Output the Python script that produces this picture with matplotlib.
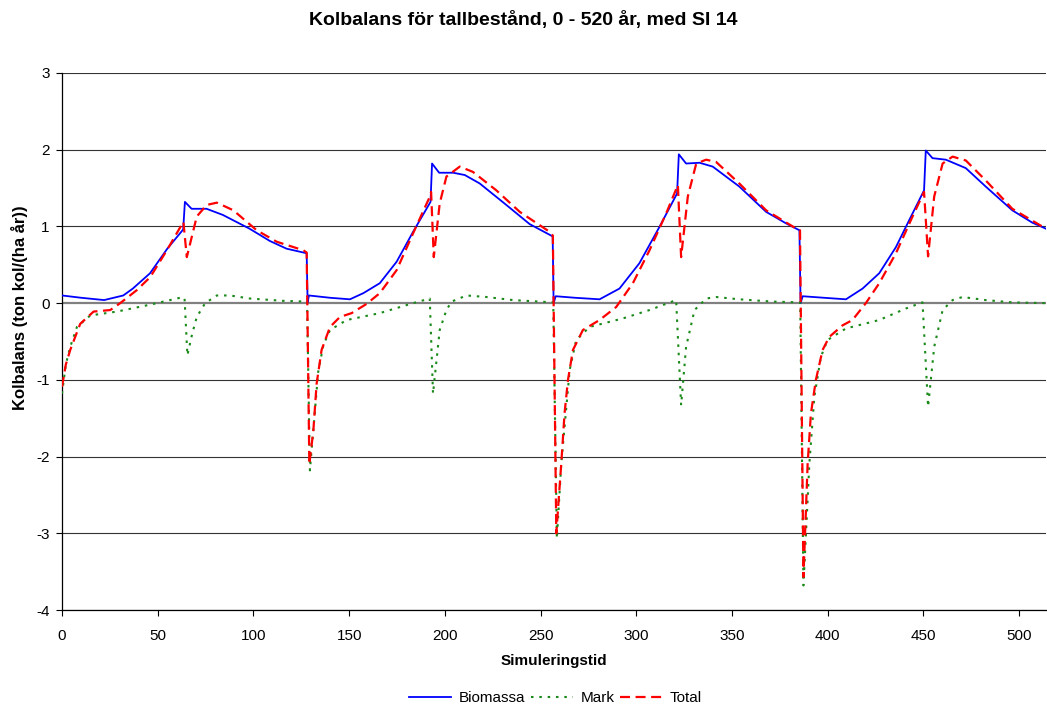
import matplotlib
matplotlib.use("Agg")
import matplotlib.pyplot as plt

plt.rcParams['font.family'] = ['Liberation Sans', 'DejaVu Sans']
plt.rcParams['axes.unicode_minus'] = False

# Biomassa
bio_t = [0, 10, 22, 32, 37, 46, 55, 63.3, 64.2, 67.7, 75.5, 84, 98, 108.6, 117.3, 127.8, 128.3, 129,
         140, 150.4, 157.4, 166, 174.8, 183.4, 192.5, 193.3, 197, 204.3, 210.4, 218.2, 232.1, 244.3, 256.3, 256.8, 257.9,
         268, 280.8, 291.2, 301.6, 312, 321.3, 322.2, 326, 333, 339.9, 353.8, 367.8, 378.2, 385.2, 385.8, 386.9,
         398, 409.5, 418.2, 426.9, 435.6, 442.5, 450.3, 451.2, 454.7, 461.7, 472.1, 482.5, 496.4, 506.8, 514]
bio_v = [0.10, 0.07, 0.04, 0.10, 0.19, 0.39, 0.71, 0.96, 1.32, 1.23, 1.23, 1.15, 0.97, 0.81, 0.71, 0.65, 0.01, 0.10,
         0.07, 0.05, 0.13, 0.26, 0.54, 0.93, 1.32, 1.82, 1.70, 1.70, 1.67, 1.56, 1.28, 1.03, 0.87, 0.00, 0.09,
         0.07, 0.05, 0.19, 0.52, 0.99, 1.43, 1.94, 1.82, 1.83, 1.78, 1.52, 1.19, 1.04, 0.95, 0.00, 0.09,
         0.07, 0.05, 0.19, 0.39, 0.73, 1.08, 1.47, 1.99, 1.89, 1.87, 1.76, 1.52, 1.21, 1.05, 0.97]

# Mark
mark_t = [0, 2, 4.3, 7.8, 14.8, 28.7, 46, 61.7, 64, 65.5, 68, 70.4, 74.8, 80.9, 87.8, 98.2, 115.6, 128,
          129.5, 131.8, 133.8, 136.5, 140, 148.7, 166, 183.4, 192.1, 193.8, 197.3, 200.8, 203.5, 211.3, 221.7, 235.6, 256.6,
          258.5, 260.8, 265.2, 268.6, 275.6, 292.9, 306.9, 320.8, 323.4, 326, 330.4, 336.5, 341.7, 353.8, 371.2, 385.6,
          387.3, 390.4, 393, 396.4, 399.9, 409.5, 426.9, 440.8, 449.5, 452.4, 455.6, 460, 465.2, 470.4, 482.5, 496.4, 514]
mark_v = [-1.18, -0.80, -0.57, -0.31, -0.16, -0.11, -0.02, 0.07, 0.07, -0.68, -0.40, -0.18, 0.00, 0.10, 0.10, 0.06, 0.03, 0.02,
          -2.18, -1.50, -0.90, -0.55, -0.35, -0.22, -0.13, 0.00, 0.06, -1.18, -0.35, -0.09, 0.02, 0.10, 0.08, 0.04, 0.01,
          -3.07, -2.09, -0.87, -0.48, -0.31, -0.20, -0.09, 0.04, -1.33, -0.57, -0.09, 0.06, 0.08, 0.05, 0.02, 0.01,
          -3.68, -2.09, -1.22, -0.70, -0.48, -0.33, -0.22, -0.07, 0.01, -1.35, -0.57, -0.09, 0.04, 0.08, 0.04, 0.01, 0.00]

# Total
tot_t = [0, 2, 4.3, 9.5, 16.5, 25.2, 30.4, 39.1, 46.1, 54.8, 63.4, 65.2, 70.4, 75.6, 80.9, 89.5, 101.7, 112.2, 126, 127.8,
         129.2, 131.3, 133, 135.6, 140, 145.2, 151.3, 159.1, 166, 174.8, 183.4, 191.8, 192.8, 194.2, 197.3, 200.8, 207.8, 214.7, 226.9, 239.1, 254.7, 256.4,
         258.2, 260.8, 262.5, 264.3, 266.9, 272.1, 280.8, 289.5, 298.2, 306.9, 315.6, 321.7, 323.4, 326.9, 331.3, 336.5, 341.7, 353.8, 367.8, 384.3, 385.5,
         387.3, 389.5, 391.2, 393.8, 397.3, 400.8, 407.7, 412.9, 419.9, 426.9, 435.6, 444.3, 450.3, 452.4, 455.6, 460, 465.2, 472.1, 482.5, 496.4, 514]
tot_v = [-1.09, -0.80, -0.61, -0.27, -0.11, -0.09, 0.00, 0.17, 0.34, 0.69, 1.06, 0.60, 1.13, 1.28, 1.31, 1.21, 0.95, 0.80, 0.69, 0.66,
         -2.10, -1.66, -1.05, -0.61, -0.31, -0.18, -0.13, -0.01, 0.13, 0.43, 0.91, 1.37, 1.45, 0.60, 1.30, 1.65, 1.78, 1.71, 1.47, 1.19, 0.93, 0.88,
         -3.00, -2.09, -1.44, -1.00, -0.61, -0.35, -0.22, -0.05, 0.26, 0.69, 1.17, 1.54, 0.60, 1.39, 1.82, 1.87, 1.84, 1.56, 1.21, 0.96, 0.95,
         -3.57, -2.09, -1.44, -1.00, -0.61, -0.44, -0.29, -0.22, 0.00, 0.26, 0.65, 1.13, 1.45, 0.61, 1.39, 1.82, 1.91, 1.86, 1.60, 1.23, 0.97]

x_ticks = [0, 50, 100, 150, 200, 250, 300, 350, 400, 450, 500]
y_ticks = [-4, -3, -2, -1, 0, 1, 2, 3]

fig = plt.figure(figsize=(10.47, 7.08), dpi=100)
ax = fig.add_axes([62 / 1047, 1 - 610 / 708, 984 / 1047, 537 / 708])

for y in y_ticks:
    if y == 0:
        ax.axhline(y, color='#808080', lw=1.6, zorder=1)
    else:
        ax.axhline(y, color='#333333', lw=0.8, zorder=1)

ax.plot(bio_t, bio_v, color='#0000ff', lw=1.3, label='Biomassa', zorder=3)
ax.plot(mark_t, mark_v, color='#1a8a1a', lw=1.5, linestyle=(0, (1.2, 2.8)), label='Mark', zorder=3)
ax.plot(tot_t, tot_v, color='#ff0000', lw=1.6, linestyle=(0, (4.5, 2.5)), label='Total', zorder=4)

ax.set_xlim(0, 514)
ax.set_ylim(-4, 3)
ax.set_xticks(x_ticks)
ax.set_yticks(y_ticks)
ax.tick_params(direction='out', length=4, width=0.8, labelsize=11)
ax.tick_params(axis='x', pad=10)
ax.tick_params(axis='y', pad=5)
for s in ['top', 'right']:
    ax.spines[s].set_visible(False)
for s in ['left', 'bottom']:
    ax.spines[s].set_linewidth(0.9)

ax.set_xlabel('Simuleringstid', fontsize=11, fontweight='bold')
ax.xaxis.set_label_coords(0.5, -(661 - 610) / 537, transform=ax.transAxes)
ax.set_ylabel('Kolbalans (ton kol/(ha år))', fontsize=12, fontweight='bold', va='center')
ax.yaxis.set_label_coords(-(62 - 20) / 984, (610 - 308) / 537, transform=ax.transAxes)
ax.xaxis.label.set_va('center')
fig.suptitle('Kolbalans för tallbestånd, 0 - 520 år, med SI 14', fontsize=14, fontweight='bold',
             y=1 - 20 / 708, va='center')

fig.legend(loc='center', bbox_to_anchor=(555.5 / 1047, 1 - 698 / 708), ncol=3, frameon=False, fontsize=11,
           handlelength=2.75, columnspacing=0.35, handletextpad=0.5)

fig.savefig('out.png', dpi=100)
